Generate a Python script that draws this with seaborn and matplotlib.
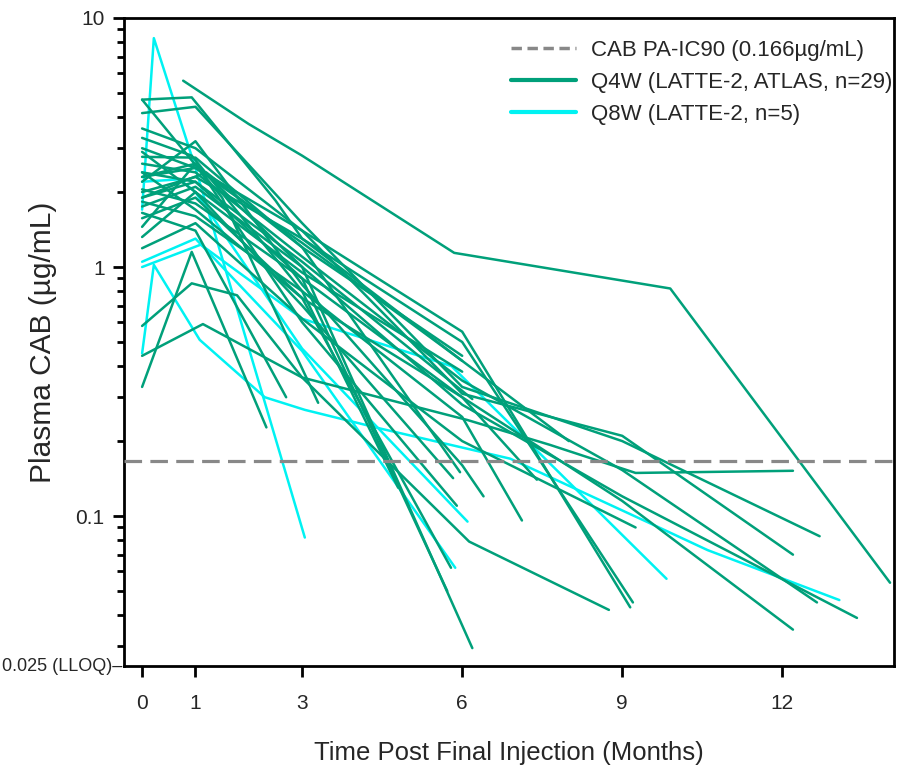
import pandas as pd
import seaborn as sns
import matplotlib.pyplot as plt
import matplotlib.transforms as mtransforms
from matplotlib.lines import Line2D
from matplotlib.ticker import FixedLocator, LogLocator, NullFormatter

# Q4W subjects (LATTE-2, ATLAS), months post final injection / plasma CAB (ug/mL)
q4w_times = [
    [0.77, 2.0, 3.0, 5.85, 9.9, 14.02],
    [0, 1.14, 3.0, 6.1, 7.65, 9.25, 12.2],
    [0, 0.93, 2.33],
    [0, 0.93, 1.78, 3.0, 6.13, 8.75],
    [0, 1.0, 3.0, 6.19],
    [0, 1.0, 3.0, 5.72],
    [0, 1.0, 3.0, 5.79],
    [0, 1.0, 3.0, 5.83],
    [0, 1.0, 3.0, 5.96],
    [0, 1.0, 3.0, 6.19],
    [0, 1.0, 3.0, 6.0, 7.12],
    [0, 1.0, 3.0, 6.0, 9.25],
    [0, 1.0, 3.0, 6.0, 9.2],
    [0, 1.0, 3.0, 6.0, 9.15],
    [0, 1.0, 3.0, 6.0, 9.0, 12.7],
    [0, 1.0, 3.0, 6.0, 9.0, 12.2],
    [0, 1.0, 3.0, 6.0, 9.0, 12.65],
    [0, 1.0, 3.0, 6.0, 9.0, 13.4],
    [0, 1.0, 3.0, 6.0, 9.0, 12.2],
    [0, 0.93, 2.5, 3.0, 6.0],
    [0, 1.5, 3.3],
    [0, 1.0, 3.0, 6.0],
    [0, 1.0, 3.0, 5.9],
    [0, 1.0, 2.7],
    [0, 0.93, 3.0, 4.8],
    [0, 1.0, 3.0, 6.0, 6.4],
    [0, 1.2, 3.0, 6.0],
    [0, 1.0, 3.0, 6.0, 8.0],
    [0, 1.0, 3.0, 6.0, 7.4],
]
q4w_conc = [
    [5.6, 3.75, 2.8, 1.14, 0.82, 0.054],
    [0.44, 0.59, 0.36, 0.243, 0.193, 0.149, 0.152],
    [0.33, 1.15, 0.227],
    [0.58, 0.86, 0.77, 0.36, 0.079, 0.042],
    [2.3, 2.6, 1.0, 0.0295],
    [1.9, 2.2, 0.9, 0.05],
    [1.57, 1.9, 0.75, 0.062],
    [1.32, 2.0, 0.7, 0.142],
    [2.77, 2.75, 1.2, 0.15],
    [2.4, 2.2, 1.05, 0.295],
    [1.83, 1.6, 0.8, 0.25, 0.096],
    [1.19, 1.5, 0.62, 0.2, 0.09],
    [2.0, 2.3, 1.3, 0.5, 0.045],
    [3.0, 2.5, 1.4, 0.55, 0.043],
    [4.15, 4.4, 1.5, 0.33, 0.2, 0.083],
    [3.6, 3.0, 1.4, 0.31, 0.21, 0.07],
    [2.6, 2.4, 1.1, 0.35, 0.153, 0.045],
    [1.75, 2.1, 1.0, 0.28, 0.12, 0.039],
    [2.05, 1.8, 0.9, 0.3, 0.115, 0.035],
    [4.7, 4.8, 1.85, 1.3, 0.42],
    [4.7, 1.9, 0.285],
    [2.9, 2.0, 0.95, 0.38],
    [1.45, 2.6, 0.6, 0.11],
    [1.65, 1.4, 0.3],
    [3.3, 2.8, 0.8, 0.13],
    [2.2, 3.2, 0.85, 0.16, 0.12],
    [1.9, 2.4, 1.2, 0.44],
    [2.3, 2.5, 1.25, 0.42, 0.2],
    [2.4, 1.7, 0.75, 0.3, 0.14],
]

# Q8W subjects (LATTE-2)
q8w_times = [
    [0, 0.22, 1.0, 3.05],
    [0, 0.22, 1.08, 2.3, 3.05, 4.45, 6.9, 9.5, 10.6, 13.07],
    [0, 1.1, 3.0, 5.8, 9.83],
    [0, 0.7, 1.0, 3.0, 6.1],
    [0, 1.0, 3.0, 5.87],
]
q8w_conc = [
    [1.7, 8.3, 2.5, 0.082],
    [0.45, 1.02, 0.51, 0.30, 0.267, 0.225, 0.17, 0.094, 0.073, 0.046],
    [1.0, 1.23, 0.62, 0.40, 0.056],
    [2.2, 2.25, 2.0, 0.47, 0.095],
    [1.05, 1.3, 0.46, 0.062],
]

ic90 = 0.166
lloq = 0.025
x_ticks = [0, 1, 3, 6, 9, 12]
y_ticks = [0.1, 1, 10]
y_tick_labels = ['0.1', '1', '10']

rows = []
for name, times, concs in [('Q8W', q8w_times, q8w_conc), ('Q4W', q4w_times, q4w_conc)]:
    for i, (t, c) in enumerate(zip(times, concs)):
        for tt, cc in zip(t, c):
            rows.append({'time': tt, 'conc': cc, 'regimen': name, 'subject': f'{name}-{i}'})
df = pd.DataFrame(rows)

sns.set_style('ticks')
plt.rcParams['font.family'] = ['Liberation Sans', 'DejaVu Sans']

green = '#00A07A'
cyan = '#00F2F2'

fig, ax = plt.subplots(figsize=(8.97, 7.72), dpi=100)
fig.subplots_adjust(left=0.1382, right=0.997, bottom=0.1373, top=0.9767)

sns.lineplot(data=df, x='time', y='conc', hue='regimen', units='subject',
             estimator=None, sort=False, hue_order=['Q8W', 'Q4W'],
             palette={'Q4W': green, 'Q8W': cyan}, linewidth=1.8,
             legend=False, ax=ax)

ax.axhline(ic90, color='#888888', lw=2.3, ls=(0, (5.5, 2.6)), zorder=5)

ax.set_yscale('log')
ax.set_ylim(lloq, 10)
ax.set_xlim(-0.34, 14.1)
ax.yaxis.set_major_locator(FixedLocator(y_ticks))
ax.set_yticklabels(y_tick_labels)
ax.yaxis.set_minor_locator(LogLocator(base=10, subs=range(2, 10)))
ax.yaxis.set_minor_formatter(NullFormatter())
ax.set_xticks(x_ticks)
ax.set_xticklabels([str(x) for x in x_ticks])

ax.tick_params(axis='both', which='major', length=8, width=2, labelsize=15, color='black')
ax.tick_params(axis='y', which='minor', length=5, width=2, color='black')
ax.tick_params(axis='x', pad=12)
ax.tick_params(axis='y', pad=6)
for sp in ax.spines.values():
    sp.set_visible(True)
    sp.set_linewidth(2)
    sp.set_color('black')

ax.set_xlabel('Time Post Final Injection (Months)', fontsize=18.5, labelpad=20)
ax.set_ylabel('Plasma CAB (µg/mL)', fontsize=21.5, labelpad=13)

trans = mtransforms.blended_transform_factory(ax.transAxes, ax.transData)
ax.text(-0.002, lloq, '0.025 (LLOQ)–', transform=trans, ha='right', va='center', fontsize=13)

handles = [
    Line2D([], [], color='#888888', lw=2.5, ls=(0, (3, 1.6))),
    Line2D([], [], color=green, lw=3),
    Line2D([], [], color=cyan, lw=3),
]
labels = ['CAB PA-IC90 (0.166µg/mL)', 'Q4W (LATTE-2, ATLAS, n=29)', 'Q8W (LATTE-2, n=5)']
ax.legend(handles, labels, loc='upper right', bbox_to_anchor=(1.0, 0.97), frameon=False,
          fontsize=16, handlelength=2.95, handletextpad=0.65, labelspacing=0.5,
          borderpad=0.1, borderaxespad=0.0)

fig.savefig('out.png', dpi=100)
